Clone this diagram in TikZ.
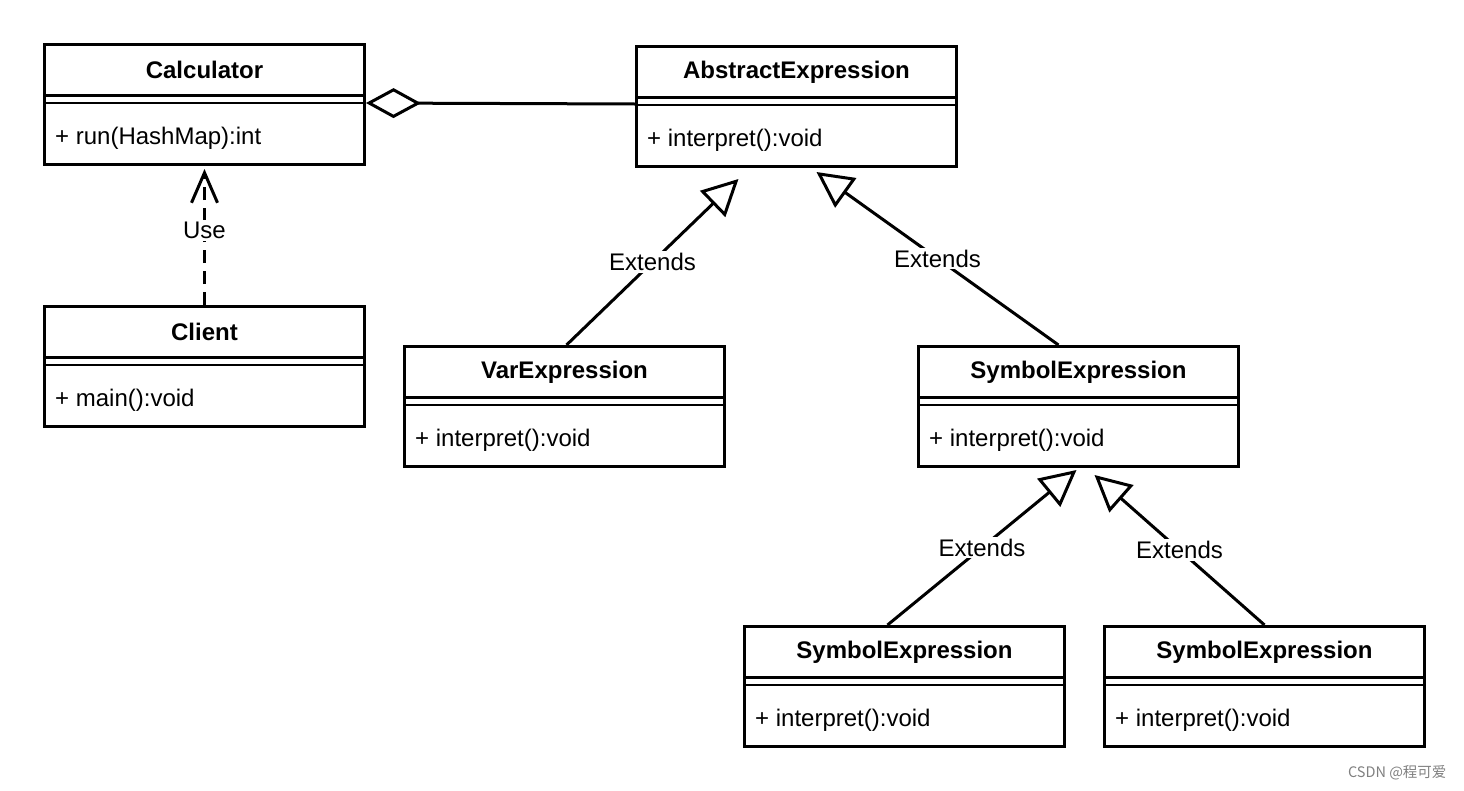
\documentclass[tikz,border=0pt]{standalone}
\usepackage{fontspec}
\setmainfont{Liberation Sans}
\newfontfamily\cjk{Noto Sans CJK SC}
\usepackage{tikz}
\usetikzlibrary{arrows.meta, positioning, calc}

\tikzset{
  classbox/.style={draw, line width=3pt, minimum width=320pt, minimum height=120pt, anchor=north west, inner sep=0pt},
  classname/.style={font=\fontsize{24pt}{28pt}\selectfont\bfseries},
  classop/.style={anchor=west, inner sep=0pt},
  extends/.style={line width=3pt, -{Triangle[open, length=36pt, width=36pt]}},
  lbl/.style={fill=white, inner sep=2pt}
}

% one uml class: name, x, y (top left), title, method
\newcommand{\umlclass}[5]{%
  \node[classbox] (#1) at (#2,#3) {};
  \node[classname] (#1-name) at ([yshift=-27pt]#1.north) {#4};
  \draw[line width=3pt] ([yshift=-52pt]#1.north west) -- ([yshift=-52pt]#1.north east);
  \draw[line width=2pt] ([yshift=-60pt]#1.north west) -- ([yshift=-60pt]#1.north east);
  \node[classop] (#1-op) at ([xshift=12pt,yshift=-95pt]#1.north west) {#5};
}

\begin{document}
\begin{tikzpicture}[x=1pt, y=-1pt, font=\fontsize{24pt}{28pt}\selectfont]
					\useasboundingbox (0,0) rectangle (1464,790);
					\umlclass{calc}{43}{43}{Calculator}{+ run(HashMap):int}
					\umlclass{client}{43}{305}{Client}{+ main():void}
					\umlclass{abs}{635}{45}{AbstractExpression}{+ interpret():void}
					\umlclass{var}{403}{345}{VarExpression}{+ interpret():void}
					\umlclass{sym}{917}{345}{SymbolExpression}{+ interpret():void}
					\umlclass{symleft}{743}{625}{SymbolExpression}{+ interpret():void}
					\umlclass{symright}{1103}{625}{SymbolExpression}{+ interpret():void}
					% aggregation
					\draw[line width=3pt, {Diamond[open, length=55pt, width=30pt]}-] ([yshift=-60pt]calc.north east) -- ([yshift=-59pt]abs.north west);
					% use
					\draw[line width=3pt, dash pattern=on 13pt off 8pt, -{Straight Barb[length=30pt, width=26pt]}] (client.north) -- ([yshift=-3pt]calc.south) node[pos=0.55, lbl] {Use};
					% extends
					\draw[extends] ([xshift=2pt]var.north) -- ([xshift=-58pt,yshift=-11pt]abs.south) node[midway, lbl] {Extends};
					\draw[extends] ([xshift=-20pt]sym.north) -- ([xshift=20pt,yshift=-4pt]abs.south) node[midway, lbl] {Extends};
					\draw[extends] ([xshift=-17pt]symleft.north) -- ([xshift=-2pt,yshift=-2pt]sym.south) node[midway, lbl] {Extends};
					\draw[extends] (symright.north) -- ([xshift=16pt,yshift=-7pt]sym.south) node[midway, lbl] {Extends};
					\node[anchor=east, text=gray, font=\cjk\fontsize{14.5pt}{17pt}\selectfont] (mark) at (1450,773) {CSDN @程可爱};
			\end{tikzpicture}
\end{document}
